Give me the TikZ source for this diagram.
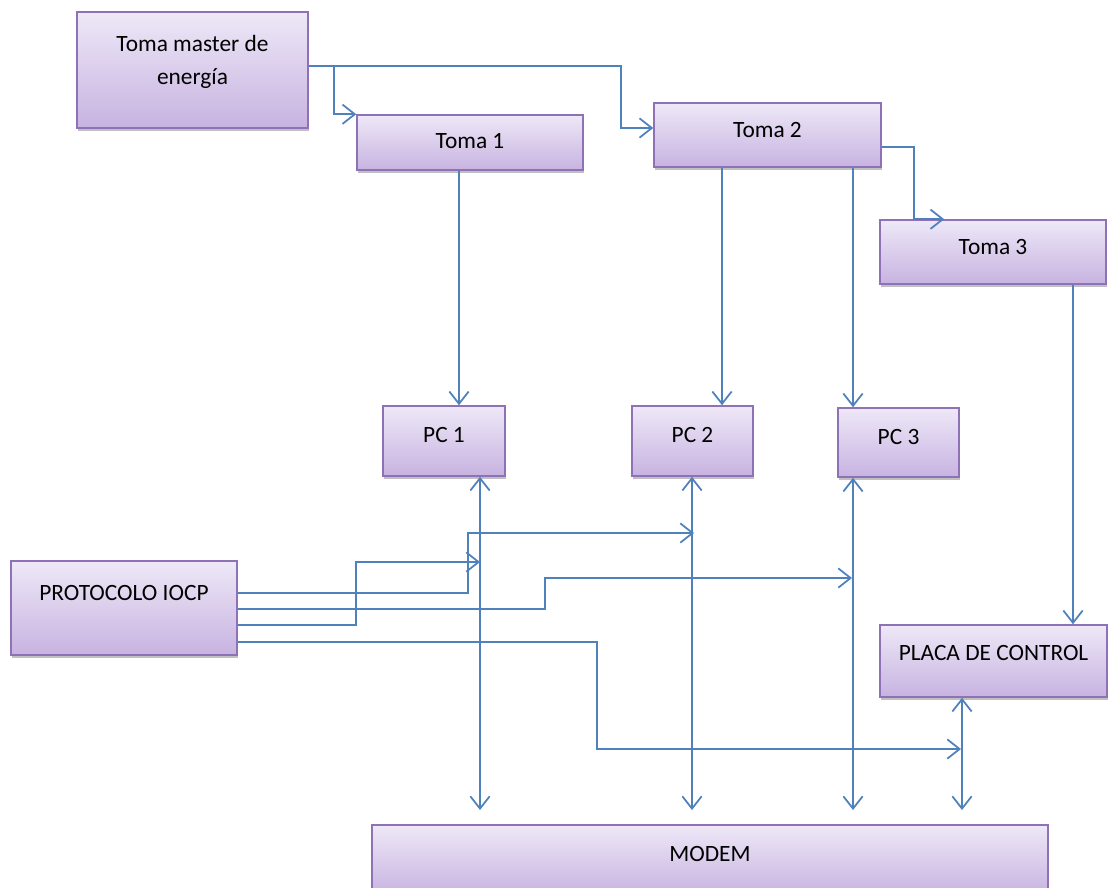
\documentclass[tikz,border=0pt]{standalone}
\usepackage{fontspec}
\setmainfont{Carlito}
\usetikzlibrary{arrows.meta,shadows}
\definecolor{boxtop}{HTML}{EEE8F7}
\definecolor{boxbot}{HTML}{C7B3E1}
\definecolor{boxedge}{HTML}{8F72B6}
\definecolor{linecol}{HTML}{4F81BD}
\tikzset{
  blok/.style={draw=boxedge, line width=0.9pt, top color=boxtop, bottom color=boxbot,
    drop shadow={shadow xshift=0.8pt, shadow yshift=-1.6pt, opacity=0.35, fill=black!70},
    align=center, inner sep=0pt, text depth=0.24cm,
    font=\fontsize{13.3}{19}\selectfont},
  cable/.style={draw=linecol, line width=1pt},
  flecha/.style={cable, -{Straight Barb[length=7pt,width=11pt]}},
  doble/.style={cable, {Straight Barb[length=7pt,width=11pt]}-{Straight Barb[length=7pt,width=11pt]}}
}
\begin{document}
\begin{tikzpicture}[x=0.02cm, y=-0.02cm]
            \clip (0,0) rectangle (1108,887);
            \fill[white] (0,0) rectangle (1108,887);
            \node[blok, minimum width=4.62cm, minimum height=2.32cm, text depth=0.4cm] (master) at (192.5,70) {Toma master de\\energía};
            \node[blok, minimum width=4.52cm, minimum height=1.10cm, text depth=0.05cm] (toma1) at (470,142.5) {Toma 1};
            \node[blok, minimum width=4.54cm, minimum height=1.28cm, text depth=0.2cm] (toma2) at (767.5,135) {Toma 2};
            \node[blok, minimum width=4.52cm, minimum height=1.28cm, text depth=0.2cm] (toma3) at (993,252) {Toma 3};
            \node[blok, minimum width=2.44cm, minimum height=1.40cm] (pc1) at (444,441) {PC 1};
            \node[blok, minimum width=2.42cm, minimum height=1.40cm] (pc2) at (692.5,441) {PC 2};
            \node[blok, minimum width=2.42cm, minimum height=1.38cm] (pc3) at (898.5,442.5) {PC 3};
            \node[blok, minimum width=4.52cm, minimum height=1.88cm, text depth=0.6cm] (iocp) at (124,608) {PROTOCOLO IOCP};
            \node[blok, minimum width=4.54cm, minimum height=1.44cm, text depth=0.32cm] (placa) at (993.5,661) {PLACA DE CONTROL};
            \node[blok, minimum width=13.52cm, minimum height=1.40cm, text depth=0.26cm] (modem) at (710,860) {MODEM};
            \coordinate (k1) at (459,0);
            \coordinate (k2) at (722,0);
            \coordinate (k3) at (853,0);
            \coordinate (k4) at (1073,0);
            \coordinate (b1) at (480,0);
            \coordinate (b2) at (692,0);
            \coordinate (b4) at (962,0);
            \coordinate (ybot) at (0,810);
            \coordinate (a1) at (0,593);
            \coordinate (a2) at (0,609);
            \coordinate (a3) at (0,625);
            \coordinate (a4) at (0,642);
            \coordinate (e1) at (480,562);
            \coordinate (e2) at (694,533);
            \coordinate (e3) at (852,578);
            \coordinate (e4) at (961,749);
            \draw[flecha] ([yshift=0.08cm]master.east) -- ++(25,0) |- (toma1.north west);
            \draw[flecha] ([yshift=0.08cm]master.east) -- ++(312,0) |- ([yshift=0.14cm]toma2.west);
            \draw[flecha] ([yshift=-0.24cm]toma2.east) -- ++(32,0) |- ([xshift=1.3cm]toma3.north west);
            \draw[flecha] (k1 |- toma1.south) -- (k1 |- pc1.north);
            \draw[flecha] (k2 |- toma2.south) -- (k2 |- pc2.north);
            \draw[flecha] (k3 |- toma2.south) -- (k3 |- pc3.north);
            \draw[flecha] (k4 |- toma3.south) -- (k4 |- placa.north);
            \draw[doble] (b1 |- pc1.south) -- (b1 |- ybot);
            \draw[doble] (b2 |- pc2.south) -- (b2 |- ybot);
            \draw[doble] (k3 |- pc3.south) -- (k3 |- ybot);
            \draw[doble] (b4 |- placa.south) -- (b4 |- ybot);
            \draw[flecha] (iocp.east |- a1) -- ++(230,0) |- (e2);
            \draw[flecha] (iocp.east |- a2) -- ++(307,0) |- (e3);
            \draw[flecha] (iocp.east |- a3) -- ++(118,0) |- (e1);
            \draw[flecha] (iocp.east |- a4) -- ++(359,0) |- (e4);
        \end{tikzpicture}
\end{document}
